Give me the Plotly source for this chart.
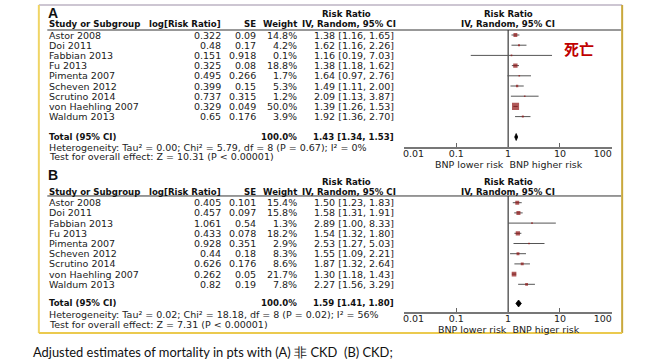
import math
import plotly.graph_objects as go

W, H = 659, 363

# ---------------- data ----------------
studies = ["Astor 2008", "Doi 2011", "Fabbian 2013", "Fu 2013", "Pimenta 2007",
           "Scheven 2012", "Scrutino 2014", "von Haehling 2007", "Waldum 2013"]

logrr_a = [0.322, 0.48, 0.151, 0.325, 0.495, 0.399, 0.737, 0.329, 0.65]
se_a = [0.09, 0.17, 0.918, 0.08, 0.266, 0.15, 0.315, 0.049, 0.176]
weight_a = [14.8, 4.2, 0.1, 18.8, 1.7, 5.3, 1.2, 50.0, 3.9]
rr_a = [1.38, 1.62, 1.16, 1.38, 1.64, 1.49, 2.09, 1.39, 1.92]
lo_a = [1.16, 1.16, 0.19, 1.18, 0.97, 1.11, 1.13, 1.26, 1.36]
hi_a = [1.65, 2.26, 7.03, 1.62, 2.76, 2.00, 3.87, 1.53, 2.70]
total_a = [1.43, 1.34, 1.53]
het_a = "Heterogeneity: Tau² = 0.00; Chi² = 5.79, df = 8 (P = 0.67); I² = 0%"
test_a = "Test for overall effect: Z = 10.31 (P < 0.00001)"
xlabel_a = "BNP lower risk  BNP higher risk"

logrr_b = [0.405, 0.457, 1.061, 0.433, 0.928, 0.44, 0.626, 0.262, 0.82]
se_b = [0.101, 0.097, 0.54, 0.078, 0.351, 0.18, 0.176, 0.05, 0.19]
weight_b = [15.4, 15.8, 1.3, 18.2, 2.9, 8.3, 8.6, 21.7, 7.8]
rr_b = [1.50, 1.58, 2.89, 1.54, 2.53, 1.55, 1.87, 1.30, 2.27]
lo_b = [1.23, 1.31, 1.00, 1.32, 1.27, 1.09, 1.32, 1.18, 1.56]
hi_b = [1.83, 1.91, 8.33, 1.80, 5.03, 2.21, 2.64, 1.43, 3.29]
total_b = [1.59, 1.41, 1.80]
het_b = "Heterogeneity: Tau² = 0.02; Chi² = 18.18, df = 8 (P = 0.02); I² = 56%"
test_b = "Test for overall effect: Z = 7.31 (P < 0.00001)"
xlabel_b = "BNP lower risk  BNP higer risk"

tick_vals = [0.01, 0.1, 1, 10, 100]
tick_text = ["0.01", "0.1", "1", "10", "100"]

caption = "Adjusted estimates of mortality in pts with (A) 非 CKD  (B) CKD;"
stamp = "死亡"

# ---------------- layout helpers ----------------
def fx(p):
    return p / W

def fy(p):
    return 1 - p / H

NB = "\u00a0"
# end labels sit inside the axis ends (as in the original layout)
tick_labels = [NB * 6 + tick_text[0]] + tick_text[1:-1] + [tick_text[-1] + NB * 6]

ROW_H = 10.2
R_TOP = -35 / ROW_H
PANEL_H = 167
R_BOT = R_TOP + PANEL_H / ROW_H

TXT = dict(family="DejaVu Sans", size=9.5, color="#222222")
TXTB = dict(family="DejaVu Sans", size=8.6, color="#111111")

panels = [
    dict(letter="A", top=0, yref="y", xref="x", logrr=logrr_a, se=se_a, w=weight_a,
         rr=rr_a, lo=lo_a, hi=hi_a, tot=total_a, het=het_a, test=test_a, xlabel=xlabel_a,
         r_letter=-2.2, r_line=-0.49, r_total=10.0, r_het=11.0, r_test=11.9, r_axis=11.05,
         r_xlabel=12.65),
    dict(letter="B", top=167.7, yref="y2", xref="x2", logrr=logrr_b, se=se_b, w=weight_b,
         rr=rr_b, lo=lo_b, hi=hi_b, tot=total_b, het=het_b, test=test_b, xlabel=xlabel_b,
         r_letter=-2.7, r_line=-0.66, r_total=9.88, r_het=10.95, r_test=11.9, r_axis=10.8,
         r_xlabel=12.45),
]

fig = go.Figure()
ann = []
shapes = []


def text(s, xpx, row, yref, anchor="left", font=TXT):
    ann.append(dict(text=s, x=fx(xpx), xref="paper", y=row, yref=yref,
                    xanchor=anchor, yanchor="middle", showarrow=False, font=font,
                    borderpad=0))


for p in panels:
    yref, xref = p["yref"], p["xref"]
    # letter & headers
    text("<b>%s</b>" % p["letter"], 29, p["r_letter"], yref,
         font=dict(family="Liberation Sans", size=14, color="#111"))
    text("<b>Risk Ratio</b>", 347, -2.05, yref, "center", TXTB)
    text("<b>Risk Ratio</b>", 518, -2.05, yref, "center", TXTB)
    text("<b>Study or Subgroup</b>", 30, -1.05, yref, "left", TXTB)
    text("<b>log[Risk Ratio]</b>", 214, -1.05, yref, "right", TXTB)
    text("<b>SE</b>", 251, -1.05, yref, "right", TXTB)
    text("<b>Weight</b>", 295, -1.05, yref, "right", TXTB)
    text("<b>IV, Random, 95% CI</b>", 349, -1.05, yref, "center", TXTB)
    text("<b>IV, Random, 95% CI</b>", 518, -1.05, yref, "center", TXTB)
    shapes.append(dict(type="line", xref="paper", yref=yref, x0=fx(29), x1=fx(638),
                       y0=p["r_line"], y1=p["r_line"], line=dict(color="#333", width=1)))

    # rows
    for i, s in enumerate(studies):
        text(s, 30, i, yref)
        text(str(p["logrr"][i]), 214, i, yref, "right")
        text(str(p["se"][i]), 251, i, yref, "right")
        text("%.1f%%" % p["w"][i], 295, i, yref, "right")
        text("%.2f [%.2f, %.2f]" % (p["rr"][i], p["lo"][i], p["hi"][i]), 398, i, yref, "right")

    est, tlo, thi = p["tot"]
    text("<b>Total (95% CI)</b>", 30, p["r_total"], yref, "left", TXTB)
    text("<b>100.0%</b>", 295, p["r_total"], yref, "right", TXTB)
    text("<b>%.2f [%.2f, %.2f]</b>" % (est, tlo, thi), 398, p["r_total"], yref, "right", TXTB)
    text(p["het"], 30, p["r_het"], yref)
    text(p["test"], 30, p["r_test"], yref)
    text(p["xlabel"], 519, p["r_xlabel"], yref, "center")

    # reference line at RR = 1
    fig.add_trace(go.Scatter(x=[1, 1], y=[p["r_line"], p["r_axis"]], mode="lines",
                             xaxis=xref, yaxis=yref, line=dict(color="#111", width=1),
                             hoverinfo="skip", showlegend=False))
    # confidence intervals
    cx, cy = [], []
    for i in range(len(studies)):
        cx += [p["lo"][i], p["hi"][i], None]
        cy += [i, i, None]
    fig.add_trace(go.Scatter(x=cx, y=cy, mode="lines", xaxis=xref, yaxis=yref,
                             line=dict(color="#555555", width=1), hoverinfo="skip",
                             showlegend=False))
    # weighted squares
    sizes = [max(1.6, 1.0 * math.sqrt(w)) for w in p["w"]]
    fig.add_trace(go.Scatter(x=p["rr"], y=list(range(len(studies))), mode="markers",
                             xaxis=xref, yaxis=yref,
                             marker=dict(symbol="square", size=sizes, color="#8e1212",
                                         line=dict(width=0)),
                             showlegend=False))
    # pooled diamond
    r = p["r_total"]
    fig.add_trace(go.Scatter(x=[tlo, est, thi, est, tlo], y=[r, r - 0.34, r, r + 0.34, r],
                             mode="lines", fill="toself", fillcolor="#000",
                             line=dict(color="#000", width=0.8), xaxis=xref, yaxis=yref,
                             hoverinfo="skip", showlegend=False))

    axis_px = p["top"] + (p["r_axis"] - R_TOP) * ROW_H
    xa = dict(type="log", range=[-2, 2], domain=[fx(408), fx(628)], anchor="free",
              position=fy(axis_px), tickvals=tick_vals, ticktext=tick_labels,
              ticks="inside", ticklen=4, tickcolor="#666", tickwidth=1,
              showline=True, linecolor="#777", linewidth=1.5, showgrid=False,
              zeroline=False, tickfont=TXT, ticklabelstandoff=-3)
    ya = dict(domain=[fy(p["top"] + PANEL_H), fy(p["top"])], range=[R_BOT, R_TOP],
              visible=False, showgrid=False, zeroline=False)
    if p["letter"] == "A":
        fig.update_layout(xaxis=xa, yaxis=ya)
    else:
        fig.update_layout(xaxis2=xa, yaxis2=ya)

# stamp text and caption
ann.append(dict(text="<b>%s</b>" % stamp, x=fx(593), y=fy(48), xref="paper", yref="paper",
                xanchor="center", yanchor="middle", showarrow=False,
                font=dict(family="Noto Sans CJK SC", size=15, color="#c00000")))
ann.append(dict(text=caption, x=fx(12), y=fy(352), xref="paper", yref="paper",
                xanchor="left", yanchor="middle", showarrow=False,
                font=dict(family="Lato", size=12.9, color="#111")))

# frame
shapes += [
    dict(type="line", xref="paper", yref="paper", x0=fx(20), x1=fx(639), y0=fy(5), y1=fy(5),
         line=dict(color="#cdc6d2", width=2)),
    dict(type="line", xref="paper", yref="paper", x0=fx(20), x1=fx(20), y0=fy(5), y1=fy(333),
         line=dict(color="#f0d565", width=2)),
    dict(type="line", xref="paper", yref="paper", x0=fx(639), x1=fx(639), y0=fy(5), y1=fy(333),
         line=dict(color="#c9a83c", width=2)),
    dict(type="line", xref="paper", yref="paper", x0=fx(20), x1=fx(639), y0=fy(333), y1=fy(333),
         line=dict(color="#ebca4f", width=2)),
]

fig.update_layout(width=W, height=H, margin=dict(l=0, r=0, t=0, b=0),
                  paper_bgcolor="white", plot_bgcolor="white", showlegend=False,
                  annotations=ann, shapes=shapes)

fig.write_html("out.html", config={"displayModeBar": False},
               post_script="document.body.style.margin='0';document.body.style.overflow='hidden';")
